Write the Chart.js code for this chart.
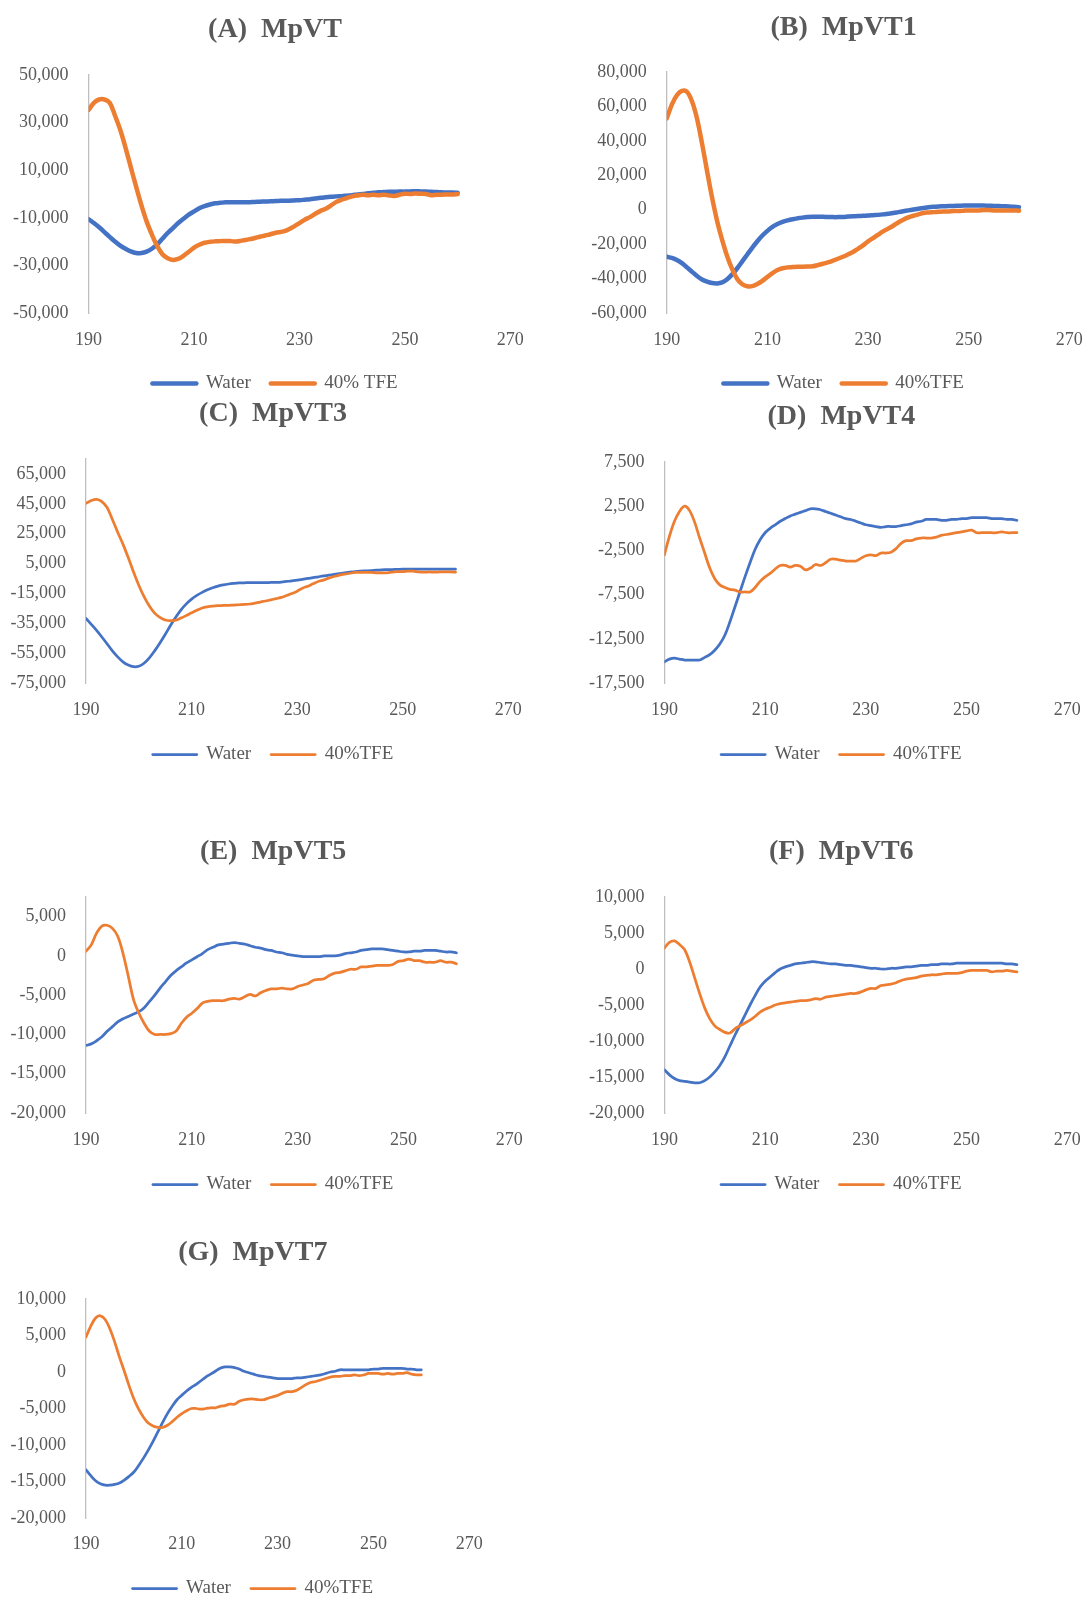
<!DOCTYPE html>
<html>
<head>
<meta charset="utf-8">
<title>CD spectra of MpVT peptides</title>
<script src="https://cdn.jsdelivr.net/npm/chart.js@4.4.1/dist/chart.umd.min.js"></script>
<style>
  html, body { margin: 0; padding: 0; background: #ffffff; overflow: hidden; }
  body { position: relative; width: 1087px; height: 1598px; }
  canvas { position: absolute; display: block; }
</style>
</head>
<body>
<script>
// Wavelength (nm), shared by every spectrum
const wavelengths = [190,191,192,193,194,195,196,197,198,199,200,201,202,203,204,205,206,207,208,209,210,
  211,212,213,214,215,216,217,218,219,220,221,222,223,224,225,226,227,228,229,230,
  231,232,233,234,235,236,237,238,239,240,241,242,243,244,245,246,247,248,249,250,
  251,252,253,254,255,256,257,258,259,260];
const xTicks = [190, 210, 230, 250, 270];

// (A) MpVT
const waterA = [-10600,-12200,-14000,-16000,-18000,-20000,-21700,-23000,-24100,-24800,-24800,
  -24200,-23000,-21200,-18800,-16400,-14300,-12200,-10400,-8700,-7300,
  -6000,-5100,-4400,-3900,-3700,-3500,-3500,-3500,-3500,-3500,
  -3400,-3300,-3200,-3100,-3000,-2900,-2800,-2800,-2700,-2600,
  -2400,-2200,-1900,-1600,-1400,-1200,-1000,-900,-700,-500,
  -200,0,300,500,700,800,900,900,1000,1000,
  1100,1200,1100,1000,900,800,700,600,600,500];
const tfeA = [35300,38300,39700,39700,38300,33000,27000,19500,11300,3200,-4600,
  -11500,-17000,-21800,-25300,-27000,-27700,-27300,-26000,-24300,-22500,
  -21300,-20500,-20100,-19900,-19800,-19700,-19800,-20000,-19600,-19200,
  -18800,-18200,-17700,-17200,-16600,-16100,-15700,-14800,-13600,-12200,
  -10800,-9700,-8300,-7100,-6200,-4800,-3300,-2400,-1700,-1000,
  -600,-300,-500,-300,-500,-300,-600,-800,-300,100,
  0,200,100,0,-500,-300,-300,-200,-200,0];
const yTicksA = [50000, 30000, 10000, -10000, -30000, -50000];

// (B) MpVT1
const waterB = [-27300,-28000,-29200,-31000,-33500,-36000,-38500,-40500,-41800,-42600,-42800,
  -42200,-40400,-37500,-34000,-30000,-26000,-22000,-18300,-15000,-12300,
  -10000,-8300,-7100,-6200,-5500,-5000,-4600,-4300,-4100,-4100,
  -4100,-4200,-4300,-4300,-4200,-4000,-3800,-3700,-3500,-3400,
  -3200,-3000,-2700,-2300,-1900,-1400,-900,-400,100,600,
  1000,1400,1700,1900,2000,2100,2200,2300,2400,2500,
  2500,2500,2400,2300,2200,2100,2000,1900,1700,1500];
const tfeB = [53100,61000,66500,69000,68500,63000,53000,38500,22500,7000,-6500,
  -17500,-27000,-34500,-40200,-43300,-44500,-44400,-43200,-41300,-39000,
  -36800,-35000,-34000,-33500,-33300,-33100,-33100,-33000,-32800,-32200,
  -31400,-30600,-29600,-28500,-27300,-26000,-24600,-22700,-20700,-18400,
  -16500,-14500,-12600,-11000,-9300,-7400,-5800,-4500,-3500,-2700,
  -1900,-1600,-1400,-1200,-1000,-1000,-800,-800,-600,-400,
  -400,-400,-200,-200,-400,-400,-400,-400,-400,-600];
const yTicksB = [80000, 60000, 40000, 20000, 0, -20000, -40000, -60000];

// (C) MpVT3
const waterC = [-31700,-35700,-39800,-44200,-48800,-53500,-57500,-60800,-63000,-64100,-63800,
  -61800,-58200,-53500,-48200,-42500,-36500,-31000,-26000,-22000,-18800,
  -16300,-14300,-12600,-11200,-10100,-9300,-8700,-8300,-8000,-7900,
  -7800,-7800,-7800,-7800,-7700,-7600,-7400,-7000,-6600,-6100,
  -5600,-5000,-4500,-3900,-3300,-2800,-2200,-1700,-1200,-800,
  -400,-100,100,300,600,800,900,1000,1100,1200,
  1200,1200,1200,1200,1200,1200,1200,1200,1200,1200];
const tfeC = [45300,47200,48000,46500,42500,34500,26000,18000,9000,-600,-9500,
  -17200,-23500,-28200,-31000,-32800,-33300,-33000,-31500,-29800,-28000,
  -26300,-24800,-24000,-23500,-23200,-23100,-23000,-22800,-22600,-22400,
  -22100,-21500,-20800,-20100,-19300,-18500,-17700,-16400,-15100,-13500,
  -11500,-10200,-8600,-7000,-6100,-4800,-3700,-2800,-2100,-1500,
  -1000,-1000,-1000,-1000,-1200,-1200,-1200,-800,-400,-400,
  -100,-100,-600,-800,-600,-800,-600,-600,-600,-800];
const yTicksC = [65000, 45000, 25000, 5000, -15000, -35000, -55000, -75000];

// (D) MpVT4
const waterD = [-15100,-14800,-14700,-14800,-14900,-14900,-14900,-14900,-14600,-14300,-13800,
  -13100,-12100,-10600,-8900,-7200,-5500,-3900,-2400,-1300,-500,
  0,400,800,1100,1400,1600,1800,2000,2200,2200,
  2100,1900,1700,1500,1300,1100,1000,800,600,400,
  300,200,100,200,200,200,300,400,500,700,
  800,1000,1000,1000,900,900,1000,1000,1100,1100,
  1200,1200,1200,1200,1100,1100,1100,1000,1000,900];
const tfeD = [-3000,-900,800,1900,2500,2000,700,-1100,-2800,-4500,-5700,
  -6400,-6700,-6900,-7000,-7200,-7200,-7200,-6700,-6000,-5500,
  -5100,-4600,-4200,-4200,-4400,-4200,-4300,-4700,-4500,-4100,
  -4200,-3900,-3500,-3500,-3600,-3700,-3700,-3700,-3400,-3100,
  -3000,-3100,-2800,-2800,-2700,-2300,-1700,-1400,-1400,-1200,
  -1100,-1100,-1100,-1000,-800,-700,-600,-500,-400,-300,
  -200,-500,-500,-500,-500,-500,-400,-500,-500,-500];
const yTicksD = [7500, 2500, -2500, -7500, -12500, -17500];

// (E) MpVT5
const waterE = [-11400,-11200,-10800,-10300,-9600,-9000,-8400,-8000,-7700,-7400,-7100,
  -6600,-5800,-5000,-4100,-3300,-2500,-1900,-1400,-900,-500,
  -100,300,800,1100,1400,1500,1600,1700,1600,1500,
  1300,1100,1000,800,700,500,400,200,100,0,
  -100,-100,-100,-100,0,0,0,100,300,400,
  500,700,800,900,900,900,800,700,600,500,
  500,600,600,700,700,700,600,500,500,400];
const tfeE = [600,1400,2900,3800,3900,3500,2500,300,-2600,-5600,-7300,
  -8600,-9600,-10000,-10000,-10000,-9900,-9600,-8600,-7800,-7300,
  -6700,-6000,-5800,-5700,-5700,-5700,-5500,-5400,-5500,-5200,
  -4900,-5100,-4700,-4400,-4200,-4200,-4100,-4200,-4200,-3900,
  -3700,-3500,-3100,-3000,-2900,-2500,-2200,-2100,-1900,-1700,
  -1700,-1400,-1400,-1300,-1200,-1200,-1200,-1100,-700,-600,
  -400,-600,-600,-800,-800,-800,-600,-800,-800,-1000];
const yTicksE = [5000, 0, -5000, -10000, -15000, -20000];

// (F) MpVT6
const waterF = [-14000,-14700,-15200,-15500,-15600,-15700,-15800,-15800,-15500,-15000,-14300,
  -13400,-12200,-10700,-9200,-7800,-6400,-5000,-3700,-2500,-1700,
  -1100,-500,0,300,500,700,800,900,1000,1000,
  900,800,700,700,600,500,500,400,300,200,
  100,100,0,0,100,100,200,300,300,400,
  500,500,600,600,700,700,700,800,800,800,
  800,800,800,800,800,800,800,700,700,600];
const tfeF = [2900,3700,3900,3400,2700,1000,-1200,-3400,-5400,-6900,-7900,
  -8400,-8800,-8900,-8300,-7900,-7500,-7100,-6600,-6000,-5600,
  -5300,-5000,-4800,-4700,-4600,-4500,-4400,-4400,-4300,-4100,
  -4200,-3900,-3800,-3700,-3600,-3500,-3400,-3400,-3200,-2900,
  -2700,-2700,-2300,-2200,-2100,-1900,-1600,-1400,-1300,-1200,
  -1000,-900,-800,-800,-700,-600,-600,-600,-500,-300,
  -200,-200,-200,-200,-400,-300,-300,-200,-300,-400];
const yTicksF = [10000, 5000, 0, -5000, -10000, -15000, -20000];

// (G) MpVT7
const waterG = [-13400,-14200,-14900,-15300,-15500,-15500,-15400,-15200,-14800,-14300,-13700,
  -12800,-11800,-10700,-9500,-8200,-6900,-5700,-4700,-3800,-3200,
  -2600,-2100,-1700,-1200,-700,-300,100,500,700,700,
  600,400,100,-100,-300,-500,-600,-700,-800,-900,
  -900,-900,-900,-800,-800,-700,-600,-500,-400,-200,
  0,100,300,300,300,300,300,300,300,400,
  400,500,500,500,500,500,400,400,300,300];
const tfeG = [4800,6300,7400,7700,7200,5900,4100,2000,100,-1900,-3700,
  -5100,-6200,-7000,-7400,-7600,-7600,-7300,-6800,-6200,-5700,
  -5300,-5000,-5000,-5100,-5000,-4900,-4900,-4700,-4600,-4400,
  -4400,-4000,-3800,-3700,-3700,-3800,-3800,-3600,-3400,-3200,
  -2900,-2700,-2700,-2500,-2100,-1700,-1400,-1300,-1100,-900,
  -700,-600,-600,-500,-500,-400,-500,-400,-200,-200,
  -200,-300,-200,-300,-200,-200,-100,-300,-400,-400];
const yTicksG = [10000, 5000, 0, -5000, -10000, -15000, -20000];

const FONT = 'Liberation Serif';
const TEXT = '#595959';
const BLUE = '#4472C4';
const ORANGE = '#ED7D31';
Chart.defaults.font.family = FONT;
Chart.defaults.color = TEXT;

// One entry per spectrum panel; "frame" holds the panel's page placement in px.
const panels = [
  { title: '(A)  MpVT',  water: waterA, tfe: tfeA, tfeLabel: '40% TFE', yMin: -50000, yMax: 50000, yTicks: yTicksA, lw: 4.5,
    frame: { left: 0,   L: 88.6,  R: 513.6,  T: 75,   B: 313,  titleX: 275,   titleY: 30,   tickY: 340,  legendY: 383 } },
  { title: '(B)  MpVT1', water: waterB, tfe: tfeB, tfeLabel: '40%TFE', yMin: -60000, yMax: 80000, yTicks: yTicksB, lw: 4.5,
    frame: { left: 543, L: 666.8, R: 1070.3, T: 72,   B: 313,  titleX: 843.6, titleY: 28,   tickY: 340,  legendY: 383 } },
  { title: '(C)  MpVT3', water: waterC, tfe: tfeC, tfeLabel: '40%TFE', yMin: -75000, yMax: 75000, yTicks: yTicksC, lw: 2.75,
    frame: { left: 0,   L: 86,    R: 510.8,  T: 459,  B: 683,  titleX: 273,   titleY: 414,  tickY: 710,  legendY: 754 } },
  { title: '(D)  MpVT4', water: waterD, tfe: tfeD, tfeLabel: '40%TFE', yMin: -17500, yMax: 7500, yTicks: yTicksD, lw: 2.75,
    frame: { left: 543, L: 664.4, R: 1068.6, T: 462,  B: 683,  titleX: 841.4, titleY: 417,  tickY: 710,  legendY: 754 } },
  { title: '(E)  MpVT5', water: waterE, tfe: tfeE, tfeLabel: '40%TFE', yMin: -20000, yMax: 7500, yTicks: yTicksE, lw: 2.75,
    frame: { left: 0,   L: 86,    R: 510.8,  T: 897,  B: 1113, titleX: 273.2, titleY: 852,  tickY: 1140, legendY: 1184 } },
  { title: '(F)  MpVT6', water: waterF, tfe: tfeF, tfeLabel: '40%TFE', yMin: -20000, yMax: 10000, yTicks: yTicksF, lw: 2.75,
    frame: { left: 543, L: 664.4, R: 1068.6, T: 897,  B: 1113, titleX: 841.3, titleY: 852,  tickY: 1140, legendY: 1184 } },
  { title: '(G)  MpVT7', water: waterG, tfe: tfeG, tfeLabel: '40%TFE', yMin: -20000, yMax: 10000, yTicks: yTicksG, lw: 2.75,
    frame: { left: 0,   L: 86,    R: 469.2,  T: 1299, B: 1518, titleX: 252.8, titleY: 1253, tickY: 1544, legendY: 1588 } }
];

const TITLE_SIZE = 28, TICK_SIZE = 18, LEGEND_SIZE = 19, LEGEND_PAD = 20;
const Y_AXIS_W = 78;   // room for the widest value label plus its gap

function toPoints(values) {
  return wavelengths.map((w, i) => ({ x: w, y: values[i] }));
}

function drawPanel(p) {
  const g = p.frame;
  const cx = g.left;
  const cy = Math.round(g.titleY - 26);
  const padL = g.L - cx - Y_AXIS_W;
  // Title and legend span [padL, spanRight]; its centre must land on titleX.
  const spanRight = 2 * (g.titleX - cx) - padL;
  const rightGutter = spanRight - (g.R - cx);      // empty box right of the plot
  const cw = Math.ceil(spanRight);
  const padR = cw - spanRight;
  const titleLH = TITLE_SIZE * 1.2;
  const titleTop = g.titleY - cy - titleLH / 2;
  const titleBottom = g.T - cy - titleTop - titleLH;
  const legendH = LEGEND_SIZE + LEGEND_PAD + 10;
  const ch = Math.round(g.legendY - cy + LEGEND_SIZE / 2 + 10);
  const xAxisH = cy + ch - legendH - g.B;
  const xTickPad = g.tickY - g.B - TICK_SIZE * 1.2 / 2;

  const canvas = document.createElement('canvas');
  canvas.width = cw;
  canvas.height = ch;
  canvas.style.left = cx + 'px';
  canvas.style.top = cy + 'px';
  canvas.style.width = cw + 'px';
  canvas.style.height = ch + 'px';
  document.body.appendChild(canvas);

  const lineStyle = (color) => ({
    borderColor: color,
    backgroundColor: color,
    borderWidth: p.lw,
    pointRadius: 0,
    pointHoverRadius: 0,
    tension: 0.35,
    borderCapStyle: 'round',
    borderJoinStyle: 'round',
    fill: false
  });

  new Chart(canvas, {
    type: 'line',
    data: {
      datasets: [
        Object.assign({ label: 'Water', data: toPoints(p.water), order: 1 }, lineStyle(BLUE)),
        Object.assign({ label: p.tfeLabel, data: toPoints(p.tfe), order: 0 }, lineStyle(ORANGE))
      ]
    },
    options: {
      responsive: false,
      animation: false,
      devicePixelRatio: 1,
      events: [],
      layout: { padding: { left: padL, right: padR, top: 0, bottom: 0 } },
      plugins: {
        title: {
          display: true,
          text: p.title,
          color: TEXT,
          font: { family: FONT, size: TITLE_SIZE, weight: 'bold', lineHeight: 1.2 },
          padding: { top: titleTop, bottom: titleBottom }
        },
        legend: {
          display: true,
          position: 'bottom',
          labels: {
            usePointStyle: true,
            pointStyleWidth: 44,
            padding: LEGEND_PAD,
            color: TEXT,
            font: { family: FONT, size: LEGEND_SIZE },
            generateLabels: (chart) => chart.data.datasets.map((ds, i) => ({
              text: ds.label,
              fillStyle: ds.borderColor,
              strokeStyle: ds.borderColor,
              fontColor: TEXT,
              lineWidth: ds.borderWidth,
              lineCap: 'round',
              pointStyle: 'line',
              hidden: false,
              datasetIndex: i
            }))
          }
        },
        tooltip: { enabled: false }
      },
      scales: {
        x: {
          type: 'linear',
          min: 190,
          max: 270,
          afterBuildTicks: (s) => { s.ticks = xTicks.map(v => ({ value: v })); },
          afterFit: (s) => { s.height = xAxisH; },
          grid: { display: false, drawTicks: false },
          border: { display: false },
          ticks: { color: TEXT, font: { family: FONT, size: TICK_SIZE }, padding: xTickPad, autoSkip: false, maxRotation: 0 }
        },
        y: {
          type: 'linear',
          position: 'left',
          min: p.yMin,
          max: p.yMax,
          afterBuildTicks: (s) => { s.ticks = p.yTicks.map(v => ({ value: v })); },
          afterFit: (s) => { s.width = Y_AXIS_W; },
          grid: { display: false, drawTicks: false },
          border: { display: true, color: '#BFBFBF', width: 1.3 },
          ticks: {
            color: TEXT,
            font: { family: FONT, size: TICK_SIZE },
            padding: 20,
            autoSkip: false,
            callback: (v) => Number(v).toLocaleString('en-US')
          }
        },
        // blank gutter on the right of the plot (no ticks, no line)
        gutter: {
          type: 'linear',
          position: 'right',
          min: 0,
          max: 1,
          afterFit: (s) => { s.width = rightGutter; },
          grid: { display: false, drawTicks: false },
          border: { display: false },
          ticks: { display: false }
        }
      }
    }
  });
}

panels.forEach(drawPanel);
</script>
</body>
</html>
